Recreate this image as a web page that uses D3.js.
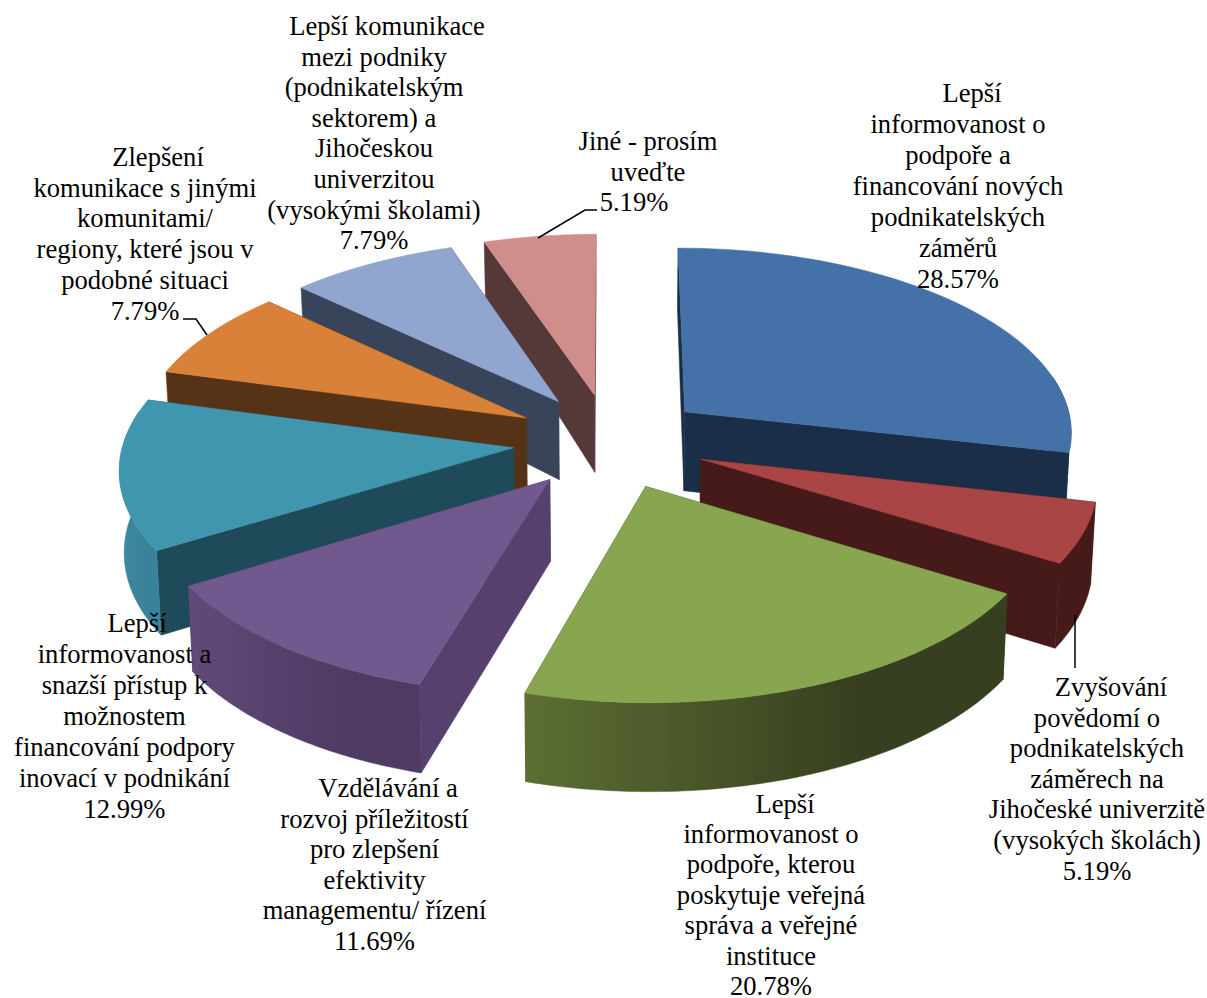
<!DOCTYPE html>
<html><head><meta charset="utf-8">
<script src="https://cdn.jsdelivr.net/npm/d3@7/dist/d3.min.js"></script>
<style>html,body{margin:0;background:#fff}svg{display:block}text{font-family:"Liberation Serif",serif;font-size:26.6px;fill:#000}</style>
</head><body><svg id="c" width="1207" height="998"></svg>
<script>
const values=[28.57,5.19,20.78,11.69,12.99,7.79,7.79,5.19];
const labelLines=[
["Lepší","informovanost o","podpoře a","financování nových","podnikatelských","záměrů","28.57%"],
["Zvyšování","povědomí o","podnikatelských","záměrech na","Jihočeské univerzitě","(vysokých školách)","5.19%"],
["Lepší","informovanost o","podpoře, kterou","poskytuje veřejná","správa a veřejné","instituce","20.78%"],
["Vzdělávání a","rozvoj příležitostí","pro zlepšení","efektivity","managementu/ řízení","11.69%"],
["Lepší","informovanost a","snazší přístup k","možnostem","financování podpory","inovací v podnikání","12.99%"],
["Zlepšení","komunikace s jinými","komunitami/","regiony, které jsou v","podobné situaci","7.79%"],
["Lepší komunikace","mezi podniky","(podnikatelským","sektorem) a","Jihočeskou","univerzitou","(vysokými školami)","7.79%"],
["Jiné - prosím","uveďte","5.19%"]];
const topColors=["#4472a8","#a94544","#88a54f","#71588f","#4096ae","#d98139","#91a6ce","#cf8d8c"];
const cutColors=["#1a2e47","#451a18","#39421f","#57406e","#1f4a59","#563216","#38445a","#553838"];
const wallLeft=["#1a2e47","#451a18","#5c6e33","#604a78","#3b8aa3","#7a4a20","#4a5a78","#6a4646"];
const wallRight=["#1a2e47","#451a18","#363f1f","#4e3a62","#3a8299","#563216","#38445a","#553838"];
const labelPos=[[958,102,31],[1097,696,30.6],[771,812.5,30.4],[374.5,797,30.5],[124.5,632,31],[145,166,30.7],[374,35,30.6],[648,150,30.5]];
const lineShift=[[14,0,0,0,0,0,0],[14,0,0,0,0,0,0],[14,0,0,0,0,0,0],[13.5,0,0,0,0,0],[12.5,0,0,0,0,0,0],[13,0,0,0,0,0],[13,0,0,0,0,0,0,0],[0,0,-14]];

const cx=610,cy=441,R=390,E=97,T=.49,D=3836,flat=.97,baseShrink=.99;
const svg=d3.select("#c");
const defs=svg.append("defs");
const pie=d3.pie().value(d=>d).sort(null).startAngle(0).endAngle(2*Math.PI);
const arcs=pie(values);
const heightAt=d3.scaleLinear().domain([-472,40,494]).range([89,80,56]);
function proj(r,a,b,bottom){
  const X=r*Math.sin(a)+E*Math.sin(b),Y=r*flat*Math.cos(a)+E*Math.cos(b),s=D/(D+Y);
  return [cx+X*s*(bottom?baseShrink:1),cy-Y*T*s+(bottom?heightAt(Y):0)];
}
const line=d3.line();
const face=(g,pts,fill)=>g.append("path").attr("d",line(pts)+"Z").attr("fill",fill).attr("stroke",fill).attr("stroke-width",.5);
const slices=arcs.map((a,i)=>({a,i,b:(a.startAngle+a.endAngle)/2}));
slices.sort((p,q)=>Math.cos(q.b)-Math.cos(p.b));
slices.forEach(({a,i,b})=>{
  const g=svg.append("g");
  const angs=d3.range(0,61).map(k=>a.startAngle+(a.endAngle-a.startAngle)*k/60);
  const topArc=angs.map(t=>proj(R,t,b,false));
  const ct=proj(0,0,b,false),cb=proj(0,0,b,true);
  const last=angs.length-1;
  face(g,[ct,topArc[0],proj(R,angs[0],b,true),cb],cutColors[i]);
  face(g,[ct,topArc[last],proj(R,angs[last],b,true),cb],cutColors[i]);
  const front=angs.filter(t=>Math.cos(t)<0.2);
  if(front.length>1){
    const ft=front.map(t=>proj(R,t,b,false)),fb=front.map(t=>proj(R,t,b,true));
    const xs=ft.map(p=>p[0]),id="w"+i;
    const gr=defs.append("linearGradient").attr("id",id).attr("gradientUnits","userSpaceOnUse")
      .attr("x1",d3.min(xs)).attr("x2",d3.max(xs)).attr("y1",0).attr("y2",0);
    gr.append("stop").attr("offset",0).attr("stop-color",wallLeft[i]);
    gr.append("stop").attr("offset",.7).attr("stop-color",wallRight[i]);
    gr.append("stop").attr("offset",1).attr("stop-color",wallRight[i]);
    face(g,ft.concat(fb.slice().reverse()),`url(#${id})`);
  }
  face(g,[ct].concat(topArc),topColors[i]);
});
const leaders=[[[1075,615],[1075,668]],[[183,319],[196,319],[207,335]],[[538,238],[585,210],[597,210]]];
svg.append("g").selectAll("path").data(leaders).join("path").attr("d",d=>line(d)).attr("fill","none").attr("stroke","#000").attr("stroke-width",1.5);
labelLines.forEach((ls,i)=>{
  const [x,y,dy]=labelPos[i];
  const t=svg.append("text").attr("text-anchor","middle");
  ls.forEach((l,k)=>t.append("tspan").attr("x",x+lineShift[i][k]).attr("y",y+k*dy).text(l));
});
</script></body></html>
